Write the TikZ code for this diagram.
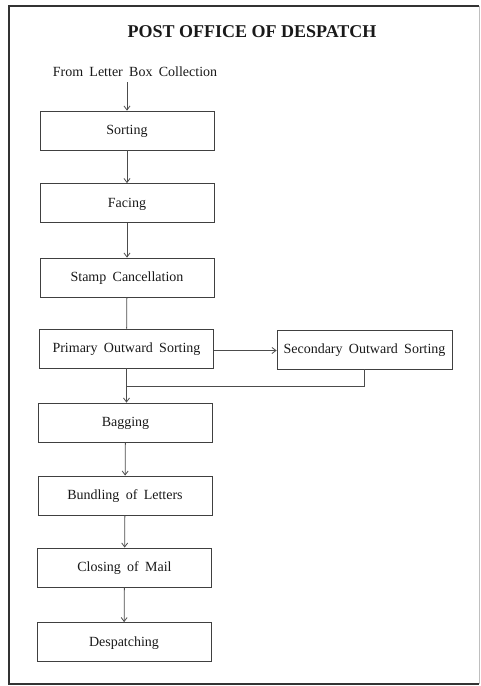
\documentclass[tikz,border=0pt]{standalone}
\usepackage{fontspec}
\setmainfont{Liberation Serif}
\usetikzlibrary{arrows.meta}
\newcommand{\wideword}{\spaceskip=6.3pt plus 0pt minus 0pt\relax}
\begin{document}
\begin{tikzpicture}[x=1pt,y=-1pt,
  body/.style={font=\fontsize{14}{16}\selectfont\wideword,text=black!90},
  stepbox/.style={body,draw=black!75,line width=0.8pt,minimum width=174pt,minimum height=39pt,
    inner sep=0pt,text height=9pt,text depth=1pt},
  flow/.style={draw=black!70,line width=0.8pt},
  arr/.style={flow,-{Straight Barb[length=4pt,width=6pt]}}]
  \useasboundingbox (0,0) rectangle (481,686);
  % frame
  \draw[black!80,line width=1.2pt] (479,6) -- (9,6) -- (9,684) -- (479,684);
  \draw[black!25,line width=0.8pt] (479,6) -- (479,684);
  % title and source
  \node[font=\fontsize{18}{20}\selectfont\bfseries,text=black!90] (title) at (252,32) {POST OFFICE OF DESPATCH};
  \node[body] (src) at (135,72) {From Letter Box Collection};
  % steps
  \node[stepbox] (sort) at (127,130.5) {Sorting};
  \node[stepbox] (face) at (127,203) {Facing};
  \node[stepbox] (stamp) at (127,277.5) {Stamp Cancellation};
  \node[stepbox] (prim) at (126.5,348.5) {Primary Outward Sorting};
  \node[stepbox,minimum width=175pt] (sec) at (364.5,349.5) {Secondary Outward Sorting};
  \node[stepbox] (bag) at (125.5,422.5) {Bagging};
  \node[stepbox] (bund) at (125,495.5) {Bundling of Letters};
  \node[stepbox] (close) at (124.5,567.5) {Closing of Mail};
  \node[stepbox] (desp) at (124,642) {Despatching};
  % connectors
  \draw[arr] (src.south -| sort.north) ++(0,2) -- (sort.north);
  \draw[arr] (sort) -- (face);
  \draw[arr] (face) -- (stamp);
  \draw[flow] (stamp) -- (prim);
  \draw[arr] ([yshift=-2pt]prim.east) -- ([yshift=-2pt]prim.east -| sec.west);
  \coordinate (merge) at (126,386);
  \draw[flow] (sec.south) -- (sec.south |- merge) -- (merge);
  \draw[arr] (prim.south) -- (bag.north -| prim.south);
  \draw[arr] (bag) -- (bund);
  \draw[arr] (bund) -- (close);
  \draw[arr] (close) -- (desp);
\end{tikzpicture}
\end{document}
